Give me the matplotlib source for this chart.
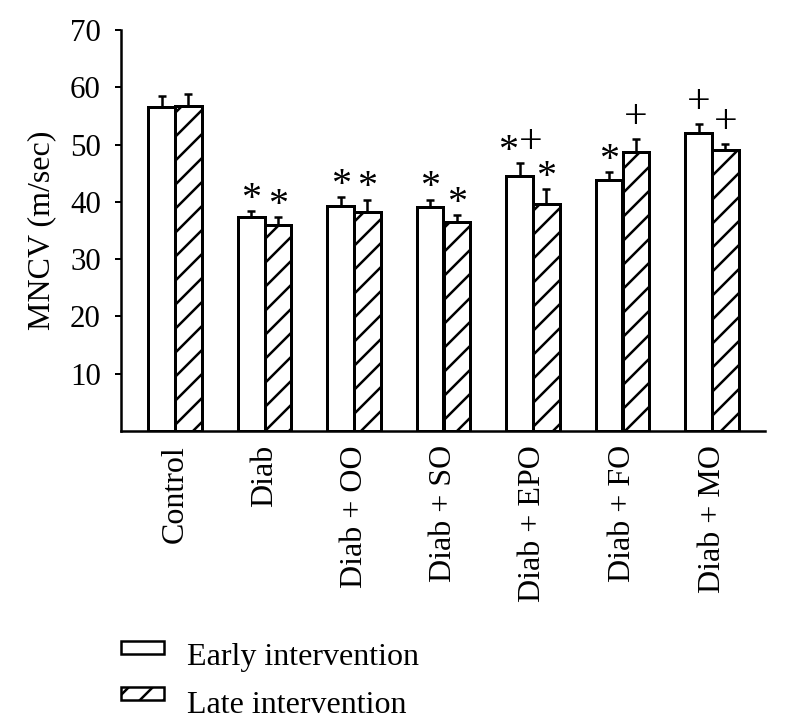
import matplotlib
matplotlib.use('Agg')
import matplotlib.pyplot as plt
from matplotlib.patches import Rectangle
import numpy as np

categories = ['Control', 'Diab', 'Diab + OO', 'Diab + SO', 'Diab + EPO', 'Diab + FO', 'Diab + MO']
early_mean = [56.5, 37.3, 39.3, 39.1, 44.6, 43.9, 52.1]
early_err = [2.0, 1.1, 1.5, 1.3, 2.1, 1.3, 1.5]
late_mean = [56.8, 36.0, 38.2, 36.4, 39.6, 48.7, 49.0]
late_err = [2.0, 1.3, 2.2, 1.3, 2.6, 2.3, 1.1]
early_marks = ['', '*', '*', '*', '*+', '*', '+']
late_marks = ['', '*', '*', '*', '*', '+', '+']
series_labels = ['Early intervention', 'Late intervention']
yticks = [10, 20, 30, 40, 50, 60, 70]
ylabel = 'MNCV (m/sec)'

DPI = 72
W, H = 786, 721
plt.rcParams['font.family'] = ['Liberation Serif', 'DejaVu Serif']
plt.rcParams['hatch.linewidth'] = 2.5
plt.rcParams['hatch.color'] = 'black'

fig = plt.figure(figsize=(W / DPI, H / DPI), dpi=DPI)
ax = fig.add_axes([121 / W, 1 - 431 / H, (765 - 121) / W, (431 - 30) / H])

n = len(categories)
x = np.arange(n)
bw = 0.30
ax.bar(x - bw / 2, early_mean, bw, facecolor='white', edgecolor='black', linewidth=3, zorder=3)
ax.bar(x + bw / 2, late_mean, bw, facecolor='white', edgecolor='black', linewidth=3, hatch='/', zorder=3)
ax.errorbar(x - bw / 2, early_mean, yerr=[np.zeros(n), early_err], fmt='none', ecolor='black',
            elinewidth=2.5, capsize=4, capthick=2.5, zorder=2)
ax.errorbar(x + bw / 2, late_mean, yerr=[np.zeros(n), late_err], fmt='none', ecolor='black',
            elinewidth=2.5, capsize=4, capthick=2.5, zorder=2)

mark_fs = {'*': 40, '+': 42}
mark_center = {'*': 0.47 * 40, '+': 0.25 * 42}
gap = 21
spacing = 22.5


def draw_marks(xs, means, errs, marks):
    for xi, m, e, s in zip(xs, means, errs, marks):
        k = len(s)
        for i, ch in enumerate(s):
            dx = (i - (k - 1) / 2) * spacing
            dy = gap - mark_center[ch]
            ax.annotate(ch, xy=(xi, m + e), xytext=(dx, dy), textcoords='offset points',
                        ha='center', va='baseline', fontsize=mark_fs[ch], zorder=4)


draw_marks(x - bw / 2, early_mean, early_err, early_marks)
draw_marks(x + bw / 2, late_mean, late_err, late_marks)

ax.set_xlim((121 - 175) / 89.5, (765 - 175) / 89.5)
ax.set_ylim(0, 70)
ax.set_yticks(yticks)
ax.set_yticklabels([str(t) for t in yticks], fontsize=31)
ax.set_xticks(x)
ax.set_xticklabels(categories, rotation=90, fontsize=32, ha='center', va='top')
ax.tick_params(axis='y', direction='out', length=6, width=2, pad=14)
ax.tick_params(axis='x', length=0, pad=14)
for sp in ['top', 'right']:
    ax.spines[sp].set_visible(False)
for sp in ['left', 'bottom']:
    ax.spines[sp].set_linewidth(2.5)
ax.set_ylabel(ylabel, fontsize=32)
ax.yaxis.set_label_coords((56 - 121) / (765 - 121), 0.5)

# legend
fig.add_artist(Rectangle((121 / W, 1 - 654 / H), 43 / W, 13 / H, transform=fig.transFigure,
                         facecolor='white', edgecolor='black', lw=2.5))
fig.add_artist(Rectangle((121 / W, 1 - 700 / H), 43 / W, 13 / H, transform=fig.transFigure,
                         facecolor='white', edgecolor='black', lw=2.5, hatch='/'))
fig.text(187 / W, 1 - 665 / H, series_labels[0], fontsize=32, va='baseline', ha='left')
fig.text(187 / W, 1 - 713 / H, series_labels[1], fontsize=32, va='baseline', ha='left')

fig.savefig('out.png', dpi=DPI)
